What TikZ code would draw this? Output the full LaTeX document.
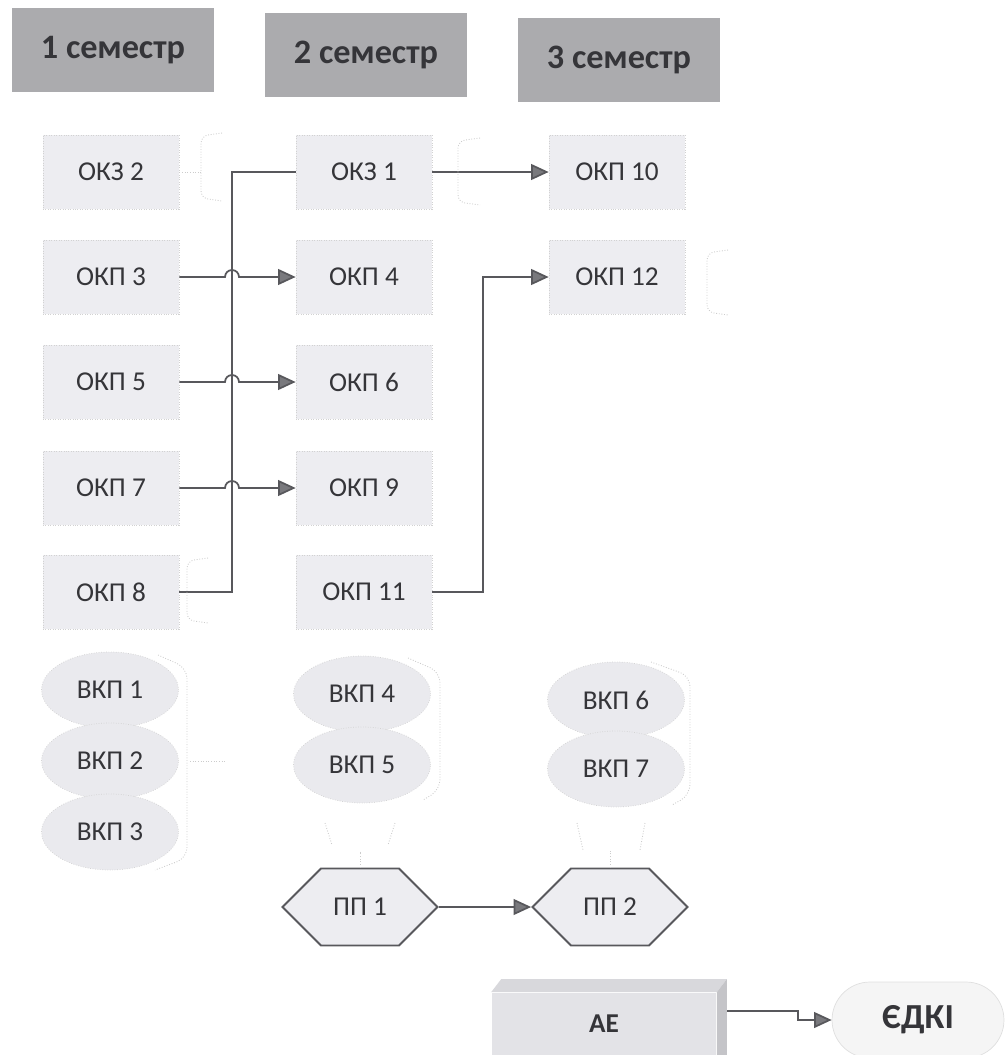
\documentclass[tikz,border=0pt]{standalone}
\usepackage{fontspec}
\setmainfont{Carlito}
\usetikzlibrary{arrows.meta}
\usetikzlibrary{shapes.geometric}
\usetikzlibrary{shapes.symbols}

\definecolor{headgray}{HTML}{ABABAE}
\definecolor{boxgray}{HTML}{EDEDF1}
\definecolor{ovalgray}{HTML}{EAEAEE}
\definecolor{linegray}{HTML}{58585C}
\definecolor{inkgray}{HTML}{353539}
\definecolor{aefront}{HTML}{E3E3E7}
\definecolor{aetop}{HTML}{D8D8DC}
\definecolor{aeright}{HTML}{C4C4C8}

\begin{document}
\begin{tikzpicture}[x=0.02cm,y=-0.02cm]
	\tikzset{semester/.style = {fill=headgray, text=inkgray, font=\fontsize{19.5}{22}\selectfont\bfseries, minimum width=4.04cm, minimum height=1.7cm}}
	\tikzset{course/.style = {fill=boxgray, draw=gray!35, densely dotted, text=inkgray, font=\fontsize{15.5}{18}\selectfont, minimum width=2.72cm, minimum height=1.48cm}}
	\tikzset{elective/.style = {shape=ellipse, fill=ovalgray, draw=gray!35, densely dotted, text=inkgray, font=\fontsize{15.5}{18}\selectfont, minimum width=2.74cm, minimum height=1.52cm, inner sep=0pt}}
	\tikzset{practice/.style = {shape=signal, signal to=west and east, signal pointer angle=90, fill=boxgray, draw=linegray, line width=1.1pt, text=inkgray, font=\fontsize{15.5}{18}\selectfont, minimum width=3.1cm, minimum height=1.54cm, inner sep=0pt}}
	\tikzset{exam/.style = {fill=aefront, text=inkgray, font=\fontsize{15.5}{18}\selectfont\bfseries, minimum width=4.5cm, minimum height=1.26cm}}
	\tikzset{final/.style = {fill=gray!8, draw=gray!25, rounded corners=0.76cm, text=inkgray, font=\fontsize{20}{23}\selectfont\bfseries, minimum width=3.44cm, minimum height=1.52cm}}
	\tikzset{edge/.style = {draw=linegray, line width=1pt, -{Triangle[length=10pt,width=9pt,fill=linegray!80]}}}
	\tikzset{bus/.style = {draw=linegray, line width=1pt}}
	\tikzset{ghost/.style = {draw=gray!40, densely dotted, line width=0.5pt}}
	\useasboundingbox (0,0) rectangle (1005,1055);
	% semesters
	\node[semester] (sem1) at (113, 50) {1 семестр};
	\node[semester] (sem2) at (366, 55) {2 семестр};
	\node[semester] (sem3) at (619, 60) {3 семестр};
	% courses
	\node[course] (okz2) at (111, 172) {ОКЗ 2};
	\node[course] (okp3) at (111, 277) {ОКП 3};
	\node[course] (okp5) at (111, 382) {ОКП 5};
	\node[course] (okp7) at (111, 488) {ОКП 7};
	\node[course] (okp8) at (111, 592) {ОКП 8};
	\node[course] (okz1) at (364, 172) {ОКЗ 1};
	\node[course] (okp4) at (364, 277) {ОКП 4};
	\node[course] (okp6) at (364, 382) {ОКП 6};
	\node[course] (okp9) at (364, 488) {ОКП 9};
	\node[course] (okp11) at (364, 592) {ОКП 11};
	\node[course] (okp10) at (617, 172) {ОКП 10};
	\node[course] (okp12) at (617, 277) {ОКП 12};
	% electives
	\node[elective] (vkp1) at (110, 690) {ВКП 1};
	\node[elective] (vkp2) at (110, 761) {ВКП 2};
	\node[elective] (vkp3) at (110, 832) {ВКП 3};
	\node[elective] (vkp4) at (362, 694) {ВКП 4};
	\node[elective] (vkp5) at (362, 765) {ВКП 5};
	\node[elective] (vkp6) at (616, 700) {ВКП 6};
	\node[elective] (vkp7) at (616, 769) {ВКП 7};
	% practice
	\node[practice] (pp1) at (360, 907) {ПП 1};
	\node[practice] (pp2) at (610, 907) {ПП 2};
	% attestation
	\node[exam] (ae) at (604, 1024) {АЕ};
	\fill[aetop] (ae.north west) -- ++(10,-13) -- ([shift={(10,-13)}]ae.north east) -- (ae.north east) -- cycle;
	\fill[aeright] (ae.north east) -- ++(10,-13) -- ++(0,90) -- (ae.south east) -- cycle;
	\coordinate (aeback) at (727, 1011);
	\node[final] (edki) at (918, 1020) {ЄДКІ};
	% edges
	\draw[bus] (okp8.east) -- (232, 592) |- (okz1.west);
	\draw[edge] (okp3.east) -- (225, 277) arc[start angle=180, end angle=0, radius=0.14cm] -- (okp4.west);
	\draw[edge] (okp5.east) -- (225, 382) arc[start angle=180, end angle=0, radius=0.14cm] -- (okp6.west);
	\draw[edge] (okp7.east) -- (225, 488) arc[start angle=180, end angle=0, radius=0.14cm] -- (okp9.west);
	\draw[edge] (okz1.east) -- (okp10.west);
	\draw[edge] (okp11.east) -- (483, 592) |- (okp12.west);
	\draw[edge] (pp1.east) -- (pp2.west);
	\draw[edge] (aeback) -- (798, 1011) |- (edki.west);
	% faint brackets
	\draw[ghost, rounded corners=4pt] (222,133) -- (201,136) -- (201,198) -- (222,201);
	\draw[ghost] (okz2.east) -- (201,172);
	\draw[ghost, rounded corners=4pt] (480,138) -- (458,141) -- (458,202) -- (480,205);
	\draw[ghost, rounded corners=4pt] (728,250) -- (707,253) -- (707,312) -- (728,315);
	\draw[ghost, rounded corners=4pt] (208,558) -- (187,561) -- (187,620) -- (208,623);
	\draw[ghost, rounded corners=6pt] (158,655) -- (187,668) -- (187,858) -- (155,870);
	\draw[ghost] (190,761) -- (225,761);
	\draw[ghost, rounded corners=6pt] (408,658) -- (440,672) -- (440,790) -- (423,800);
	\draw[ghost, rounded corners=6pt] (651,662) -- (690,676) -- (690,795) -- (672,805);
	\draw[ghost] (325,823) -- (332,845);
	\draw[ghost] (395,823) -- (388,845);
	\draw[ghost] (pp1.north) -- ++(0,-16);
	\draw[ghost] (577,823) -- (583,850);
	\draw[ghost] (645,823) -- (640,850);
	\draw[ghost] (pp2.north) -- ++(0,-18);
\end{tikzpicture}
\end{document}
